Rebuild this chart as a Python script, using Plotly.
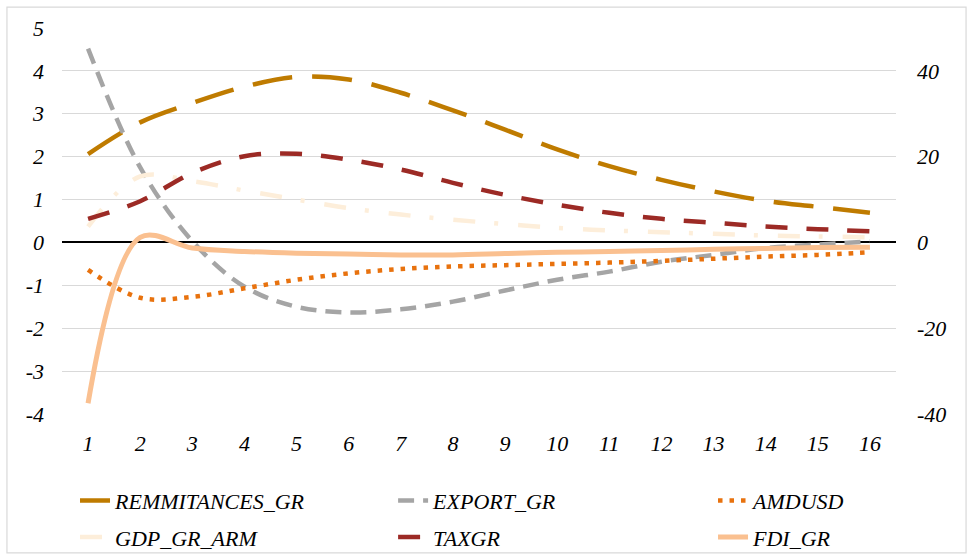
import plotly.graph_objects as go

periods = list(range(1, 17))

remittances_gr = [2.06, 2.80, 3.25, 3.63, 3.86, 3.80, 3.49, 3.08, 2.63, 2.17, 1.78, 1.46, 1.19, 0.97, 0.83, 0.69]
export_gr = [4.52, 1.75, 0.03, -1.03, -1.50, -1.63, -1.56, -1.38, -1.12, -0.87, -0.68, -0.45, -0.29, -0.13, -0.05, 0.02]
amdusd = [-0.64, -1.29, -1.27, -1.07, -0.87, -0.72, -0.62, -0.56, -0.53, -0.50, -0.47, -0.43, -0.38, -0.33, -0.29, -0.23]
gdp_gr_arm = [0.37, 1.54, 1.43, 1.21, 1.00, 0.80, 0.65, 0.53, 0.43, 0.34, 0.28, 0.24, 0.20, 0.16, 0.14, 0.12]
taxgr = [0.55, 0.96, 1.62, 2.01, 2.07, 1.93, 1.70, 1.39, 1.11, 0.88, 0.69, 0.55, 0.46, 0.37, 0.31, 0.26]
fdi_gr = [-37.5, 1.2, -1.3, -2.1, -2.5, -2.7, -2.9, -2.9, -2.6, -2.3, -2.1, -1.9, -1.6, -1.4, -1.2, -1.1]  # right axis

left_ticks = [-4, -3, -2, -1, 0, 1, 2, 3, 4, 5]
left_labels = ["-4", "-3", "-2", "-1", "0", "1", "2", "3", "4", "5"]
right_ticks = [-40, -20, 0, 20, 40]
right_labels = ["-40", "-20", "0", "20", "40"]

FONT = "Liberation Serif"
FS = 22

fig = go.Figure()

def add(name, y, color, dash, legend, yaxis="y", width=4.5):
    fig.add_trace(go.Scatter(
        x=periods, y=y, name=name, mode="lines",
        line=dict(color=color, width=width, dash=dash, shape="spline", smoothing=1.0),
        legend=legend, legendgroup=name, yaxis=yaxis,
    ))

add("REMMITANCES_GR", remittances_gr, "#BF7B00", "40px,20px", "legend")
add("EXPORT_GR", export_gr, "#A5A5A5", "16px,9px", "legend2")
add("AMDUSD", amdusd, "#E8720E", "4.5px,7px", "legend3")
add("GDP_GR_ARM", gdp_gr_arm, "#FDEEDA", "22px,19px,4px,20px", "legend")
add("TAXGR", taxgr, "#9C2A25", "22px,19px", "legend2")
add("FDI_GR", fdi_gr, "#FAC090", "solid", "legend3", yaxis="y2", width=5)

legend_common = dict(
    orientation="v", yanchor="top", xanchor="left", y=-0.17,
    font=dict(family=FONT, size=FS, color="#000000", style="italic"),
    bgcolor="rgba(0,0,0,0)", tracegroupgap=5, traceorder="grouped",
)

fig.update_layout(
    width=967, height=555,
    margin=dict(l=62, r=71, t=28, b=141, autoexpand=False),
    paper_bgcolor="white", plot_bgcolor="white",
    font=dict(family=FONT, size=FS, color="#000000", style="italic"),
    legend=dict(x=0.0156, **legend_common),
    legend2=dict(x=0.397, **legend_common),
    legend3=dict(x=0.7806, **legend_common),
    xaxis=dict(
        range=[0.5, 16.5], tickvals=periods, ticktext=[str(p) for p in periods],
        showgrid=False, zeroline=False, showline=False, ticks="",
        ticklabelstandoff=14,
        tickfont=dict(family=FONT, size=FS, style="italic"),
    ),
    yaxis=dict(
        range=[-4, 5], tickvals=left_ticks, ticktext=left_labels,
        showgrid=True, gridcolor="#D9D9D9", gridwidth=1.2,
        zeroline=True, zerolinecolor="#000000", zerolinewidth=2,
        showline=False, ticks="", ticklabelstandoff=17,
        tickfont=dict(family=FONT, size=FS, style="italic"),
    ),
    yaxis2=dict(
        range=[-40, 50], tickvals=right_ticks, ticktext=right_labels,
        overlaying="y", side="right", showgrid=False, zeroline=False,
        showline=False, ticks="", ticklabelstandoff=20,
        tickfont=dict(family=FONT, size=FS, style="italic"),
    ),
    shapes=[dict(
        type="rect", xref="paper", yref="paper",
        x0=-0.066, x1=1.084, y0=-0.36, y1=1.054,
        line=dict(color="#D9D9D9", width=1.2), fillcolor="rgba(0,0,0,0)", layer="below",
    )],
)

fig.write_html("out.html", config={"displayModeBar": False},
               post_script="document.body.style.margin='0px';")
